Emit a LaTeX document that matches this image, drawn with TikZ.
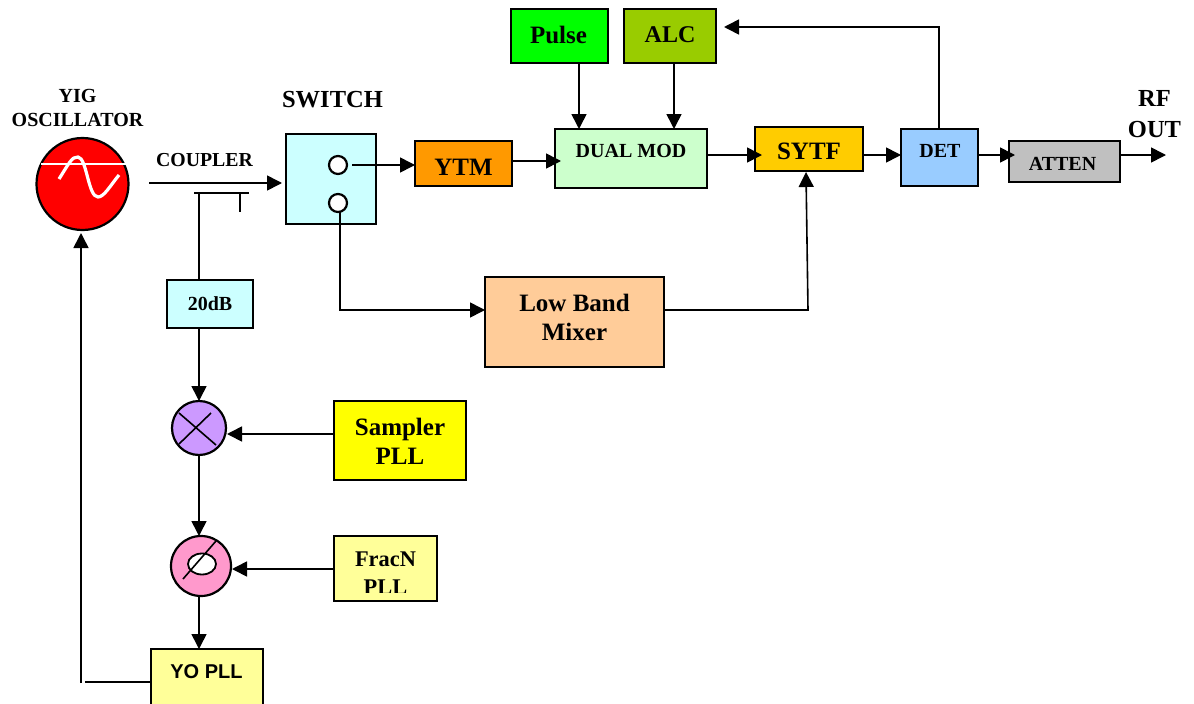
\documentclass[tikz,border=0pt]{standalone}
\usepackage{fontspec}
\setmainfont{Liberation Serif}
\newfontfamily\hvfont{Liberation Sans}
\usetikzlibrary{arrows.meta}
\definecolor{cPulse}{HTML}{00FF00}
\definecolor{cAlc}{HTML}{99CC00}
\definecolor{cDual}{HTML}{CCFFCC}
\definecolor{cSytf}{HTML}{FFCC00}
\definecolor{cDet}{HTML}{99CCFF}
\definecolor{cAtten}{HTML}{C0C0C0}
\definecolor{cYtm}{HTML}{FF9900}
\definecolor{cCyan}{HTML}{CCFFFF}
\definecolor{cLow}{HTML}{FFCC99}
\definecolor{cPaleY}{HTML}{FFFF99}
\definecolor{cYel}{HTML}{FFFF00}
\definecolor{cRed}{HTML}{FF0000}
\definecolor{cMix}{HTML}{CC99FF}
\definecolor{cPhase}{HTML}{FF99CC}
\newcommand{\fs}[2]{\fontsize{#1}{#2}\selectfont\bfseries}
\tikzset{
  blk/.style={draw=black,line width=2pt,inner sep=0pt,outer sep=0pt,align=center},
  lbl/.style={inner sep=0pt,outer sep=0pt,align=center,text=black},
  conn/.style={line width=1.6pt,draw=black},
  arr/.style={conn,-{Triangle[length=15pt,width=15pt]}},
  round/.style={circle,draw=black,line width=2.2pt,inner sep=0pt,outer sep=0pt},
}
\begin{document}
\begin{tikzpicture}[x=1pt,y=-1pt]
\clip (0,0) rectangle (1194,704);
% blocks
\node[blk,fill=cPulse,minimum width=97pt,minimum height=54pt] (pulse) at (559.5,36) {};
\node[lbl,font=\fs{25}{29}] (pulset) at (558.5,35) {Pulse};
\node[blk,fill=cAlc,minimum width=92pt,minimum height=54pt] (alc) at (670,36) {};
\node[lbl,font=\fs{24}{29}] (alct) at (670,35) {ALC};
\node[blk,fill=cDual,minimum width=152pt,minimum height=59pt] (dual) at (631,158.5) {};
\node[lbl,font=\fs{20}{24}] (dualt) at (631,151) {DUAL MOD};
\node[blk,fill=cYtm,minimum width=97pt,minimum height=45pt] (ytm) at (463.5,163.5) {};
\node[lbl,font=\fs{25}{29}] (ytmt) at (463.5,167) {YTM};
\node[blk,fill=cSytf,minimum width=108pt,minimum height=44pt] (sytf) at (809,149) {};
\node[lbl,font=\fs{25}{29}] (sytft) at (809,151) {SYTF};
\node[blk,fill=cDet,minimum width=77pt,minimum height=57pt] (det) at (939.5,157.5) {};
\node[lbl,font=\fs{20}{24}] (dett) at (940,151) {DET};
\node[blk,fill=cAtten,minimum width=111pt,minimum height=41pt] (atten) at (1064.5,161.5) {};
\node[lbl,font=\fs{20}{24}] (attent) at (1062.5,164) {ATTEN};
\node[blk,fill=cCyan,minimum width=90pt,minimum height=90pt] (switch) at (331,179) {};
\node[round,fill=white,minimum size=18pt] (sa) at (338,165) {};
\node[round,fill=white,minimum size=18pt] (sb) at (338,203) {};
\node[blk,fill=cCyan,minimum width=86pt,minimum height=48pt,font=\fs{20}{24}] (att) at (210,304) {20dB};
\node[blk,fill=cLow,minimum width=179pt,minimum height=90pt] (low) at (574.5,322) {};
\node[lbl,font=\fs{25}{29}] (lowt1) at (574.5,317) {Low Band\\Mixer};
\node[blk,fill=cYel,minimum width=132pt,minimum height=79pt] (samp) at (400,440.5) {};
\node[lbl,font=\fs{25}{29}] (sampt) at (400,441.5) {Sampler\\PLL};
\node[blk,fill=cPaleY,minimum width=103pt,minimum height=65pt] (frac) at (385.5,568.5) {};
\begin{scope}
  \clip (336,537) rectangle (436,592);
  \node[lbl,font=\fs{22.4}{28}] (fract) at (385.5,573) {FracN\\PLL};
\end{scope}
\node[blk,fill=cPaleY,minimum width=112pt,minimum height=71pt] (yo) at (207,684.5) {};
\node[lbl,font=\hvfont\fs{20}{24}] (yot) at (206.5,672) {YO PLL};
% round elements
\node[round,fill=cRed,minimum size=92pt] (yig) at (82.5,184) {};
\draw[white,line width=1.6pt] (41,164) -- (126,164);
\draw[white,line width=3.2pt] (59,179) .. controls (68,165) and (72,156) .. (78,157)
  .. controls (87,158) and (88,197) .. (98,197) .. controls (104,197) and (110,186) .. (119,175);
\node[round,fill=cMix,minimum size=54pt] (mix) at (199,428) {};
\draw[line width=1.6pt] (179,413) -- (216,445) (179,444) -- (211,413);
\node[round,fill=cPhase,minimum size=60pt] (phase) at (201,566) {};
\draw[line width=1.8pt,fill=white] (202,564) ellipse (14pt and 10.5pt);
\draw[line width=1.6pt] (183,579) -- (216,541);
% text labels
\node[lbl,font=\fs{20}{24}] (yigt) at (77.5,108) {YIG\\OSCILLATOR};
\node[lbl,font=\fs{24.5}{29}] (swt) at (332.5,100) {SWITCH};
\node[lbl,font=\fs{19.8}{24}] (coupt) at (204.5,160) {COUPLER};
\node[lbl,font=\fs{24.5}{31}] (rft) at (1154.5,114.5) {RF\\OUT};
% helper coordinates
\coordinate (cin) at (149,183);
\coordinate (cout) at (282,183);
\coordinate (cl) at (194,193);
\coordinate (cr) at (249,193);
\coordinate (cj) at (199,193);
\coordinate (cs) at (240,193);
\coordinate (cse) at (240,212);
\coordinate (lowc) at (340,310);
\coordinate (sbb) at (340,212);
\coordinate (sytfb) at (806,172);
\coordinate (lowt) at (808,310);
\coordinate (lowo) at (664,310);
\coordinate (ytmo) at (512,161);
\coordinate (dualm) at (561,161);
\coordinate (dualo) at (707,155);
\coordinate (sytfi) at (762,155);
\coordinate (sytfo) at (863,155);
\coordinate (deti) at (901,155);
\coordinate (deto) at (978,155);
\coordinate (atti) at (1015,155);
\coordinate (atto) at (1120,155);
\coordinate (rfend) at (1166,155);
\coordinate (dett2) at (939,129);
\coordinate (corn) at (939,27);
\coordinate (alcr) at (724,27);
\coordinate (pt) at (579,63);
\coordinate (pb) at (579,129);
\coordinate (at) at (674,63);
\coordinate (ab) at (674,129);
\coordinate (saR) at (352,165);
\coordinate (sampl) at (334,434);
\coordinate (mixr) at (227,434);
\coordinate (fracl) at (334,569);
\coordinate (phr) at (232,569);
\coordinate (phb) at (199,596);
\coordinate (yotop) at (199,649);
\coordinate (yol) at (151,682);
\coordinate (fb) at (85,682);
\coordinate (fv) at (81,683);
\coordinate (yigb) at (81,233);
% connectors
\draw[arr] (cin) -- (cout);
\draw[conn] (cl) -- (cr);
\draw[conn] (cs) -- (cse);
\draw[conn] (cj) -- (att.north -| cj);
\draw[arr] (att.south -| cj) -- (mix.north);
\draw[arr] (saR) -- (ytm.west |- saR);
\draw[arr] (sbb) -- (lowc) -- (low.west |- lowc);
\draw[arr] (ytmo) -- (dualm);
\draw[arr] (dualo) -- (sytfi);
\draw[arr] (sytfo) -- (deti);
\draw[arr] (deto) -- (atti);
\draw[arr] (atto) -- (rfend);
\draw[arr] (pt) -- (pb);
\draw[arr] (at) -- (ab);
\draw[arr] (dett2) -- (corn) -- (alcr);
\draw[arr] (lowo) -- (lowt) -- (sytfb);
\draw[arr] (sampl) -- (mixr);
\draw[arr] (fracl) -- (phr);
\draw[arr] (mix.south) -- (phase.north -| mix);
\draw[arr] (phb) -- (yotop);
\draw[conn] (yol) -- (fb);
\draw[arr] (fv) -- (yigb);
\end{tikzpicture}
\end{document}
